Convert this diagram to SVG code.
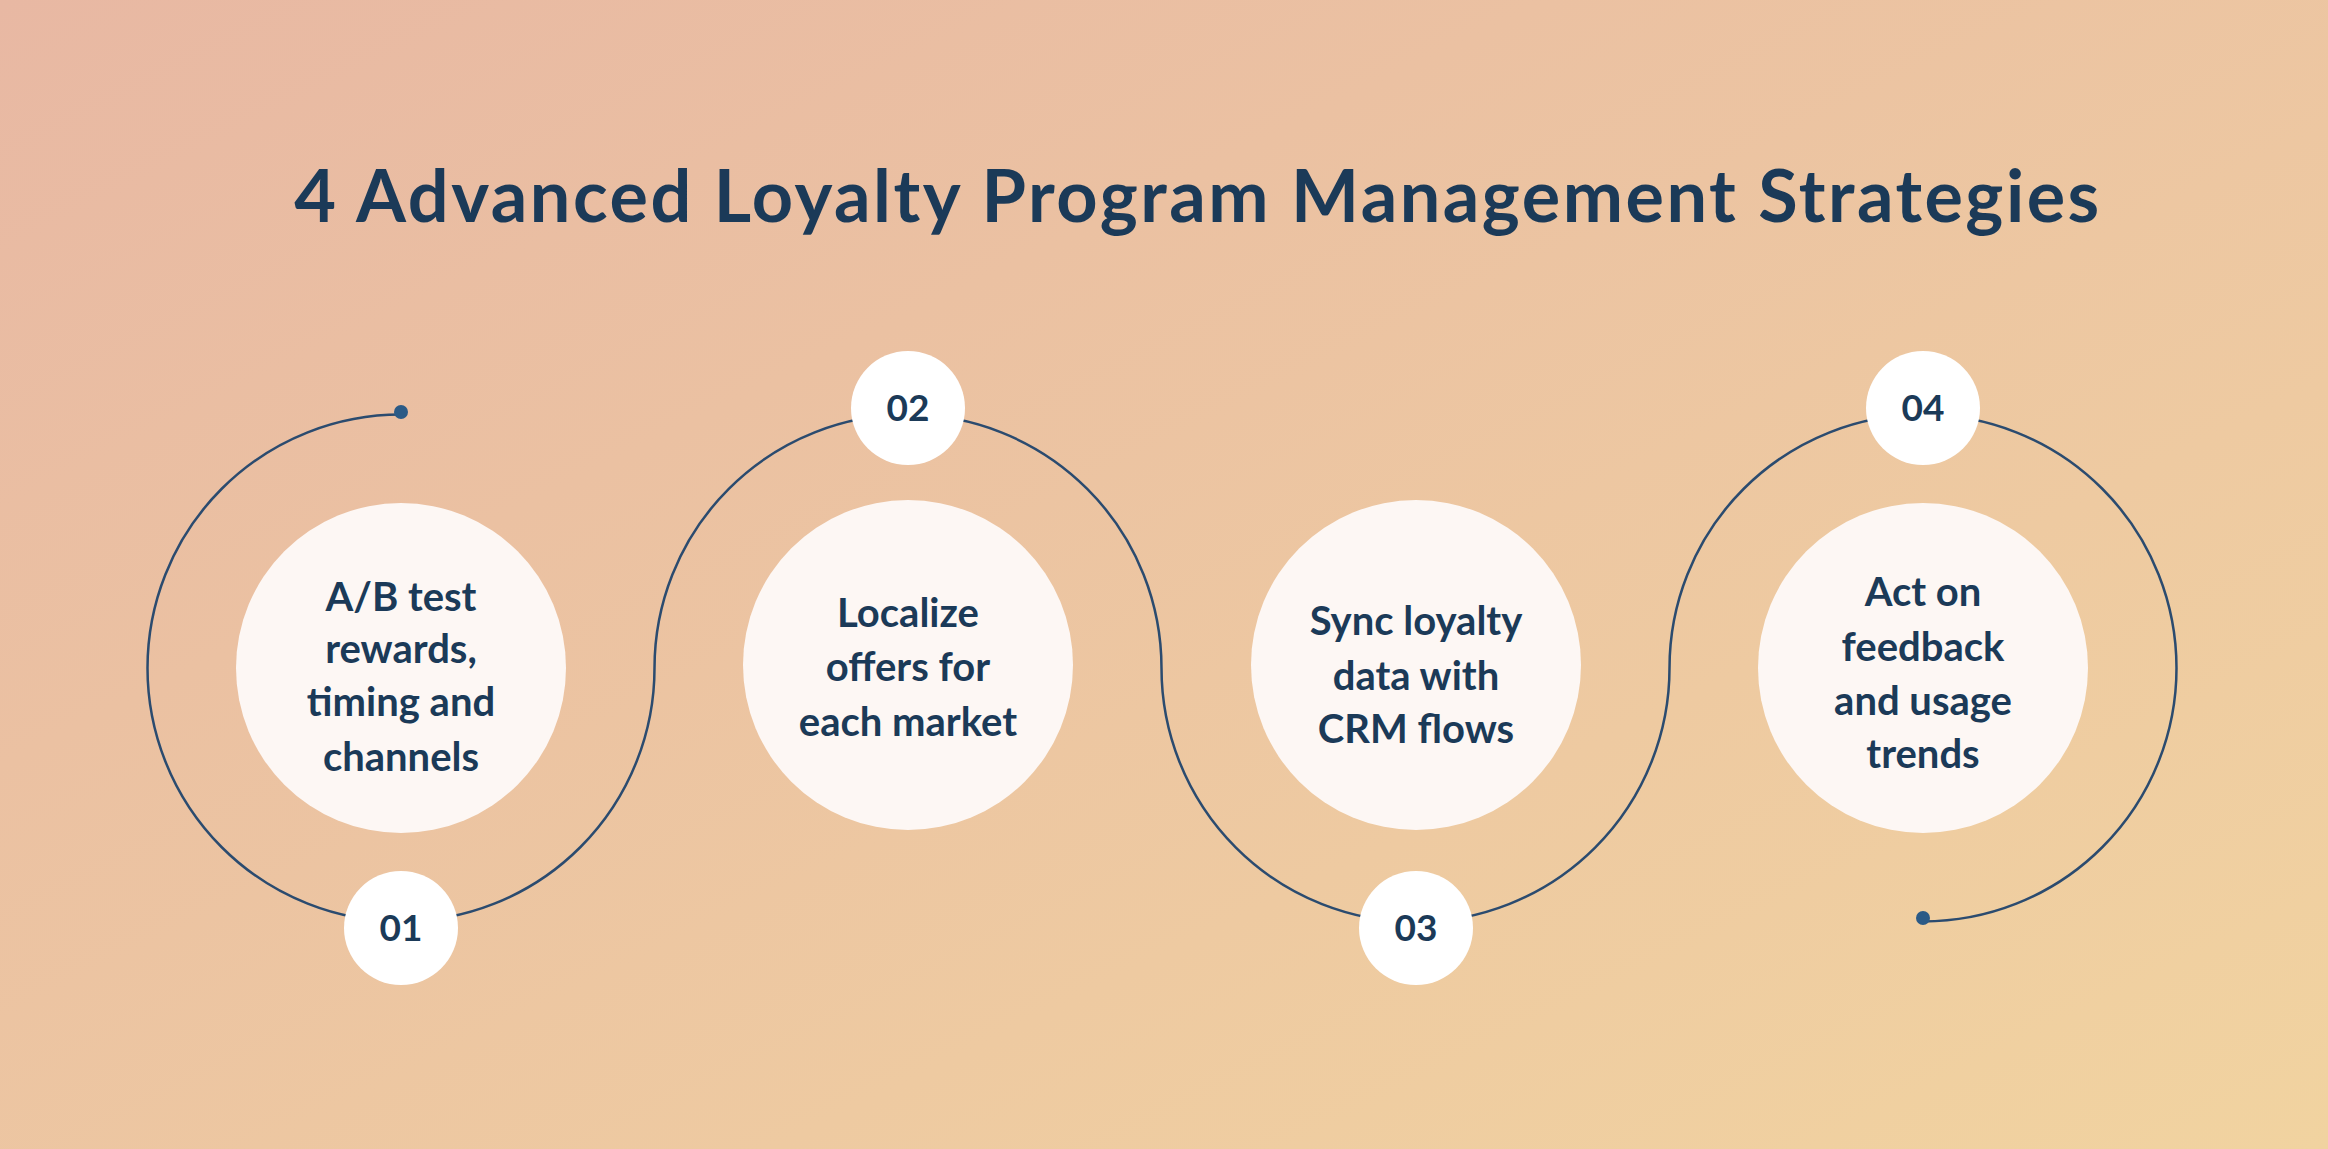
<svg xmlns="http://www.w3.org/2000/svg" width="2328" height="1149" viewBox="0 0 2328 1149">
<defs>
<linearGradient id="bg" x1="0" y1="0" x2="1" y2="1">
<stop offset="0" stop-color="#e8b8a3"/>
<stop offset="1" stop-color="#f1d3a0"/>
</linearGradient>
<style>
.t{font-family:"Lato","Liberation Sans",sans-serif;font-weight:700;fill:#1b3a58;text-anchor:middle}
.c{fill:#fdf7f4}
.b{fill:#ffffff}
.arc{fill:none;stroke:#2b4b6f;stroke-width:2.5}
.dot{fill:#2b5a86}
</style>
</defs>
<rect width="2328" height="1149" fill="url(#bg)"/>
<text class="t" x="1198" y="222" font-size="72" letter-spacing="2.5">4 Advanced Loyalty Program Management Strategies</text>
<g id="connectors">
<path class="arc" d="M401 414.5 A253.5 253.5 0 1 0 654.5 668"/>
<path class="arc" d="M654.5 668 A253.5 253.5 0 0 1 1161.5 668"/>
<path class="arc" d="M1161.5 668 A253.5 253.5 0 0 0 1669.5 668"/>
<path class="arc" d="M1669.5 668 A253.5 253.5 0 1 1 1923 921.5"/>
<circle class="dot" cx="401" cy="412" r="7"/>
<circle class="dot" cx="1923" cy="918" r="7"/>
</g>
<g id="node1">
<circle class="c" cx="401" cy="668" r="165"/>
<text class="t" font-size="40"><tspan x="401" y="611">A/B test</tspan><tspan x="401" y="663">rewards,</tspan><tspan x="401" y="716">timing and</tspan><tspan x="401" y="771">channels</tspan></text>
<circle class="b" cx="401" cy="928" r="57"/>
<text class="t" x="401" y="941" font-size="37">01</text>
</g>
<g id="node2">
<circle class="c" cx="908" cy="665" r="165"/>
<text class="t" font-size="40"><tspan x="908" y="627">Localize</tspan><tspan x="908" y="681">offers for</tspan><tspan x="908" y="736">each market</tspan></text>
<circle class="b" cx="908" cy="408" r="57"/>
<text class="t" x="908" y="421" font-size="37">02</text>
</g>
<g id="node3">
<circle class="c" cx="1416" cy="665" r="165"/>
<text class="t" font-size="40"><tspan x="1416" y="635">Sync loyalty</tspan><tspan x="1416" y="690">data with</tspan><tspan x="1416" y="743">CRM flows</tspan></text>
<circle class="b" cx="1416" cy="928" r="57"/>
<text class="t" x="1416" y="941" font-size="37">03</text>
</g>
<g id="node4">
<circle class="c" cx="1923" cy="668" r="165"/>
<text class="t" font-size="40"><tspan x="1923" y="606">Act on</tspan><tspan x="1923" y="661">feedback</tspan><tspan x="1923" y="715">and usage</tspan><tspan x="1923" y="768">trends</tspan></text>
<circle class="b" cx="1923" cy="408" r="57"/>
<text class="t" x="1923" y="421" font-size="37">04</text>
</g>
</svg>
